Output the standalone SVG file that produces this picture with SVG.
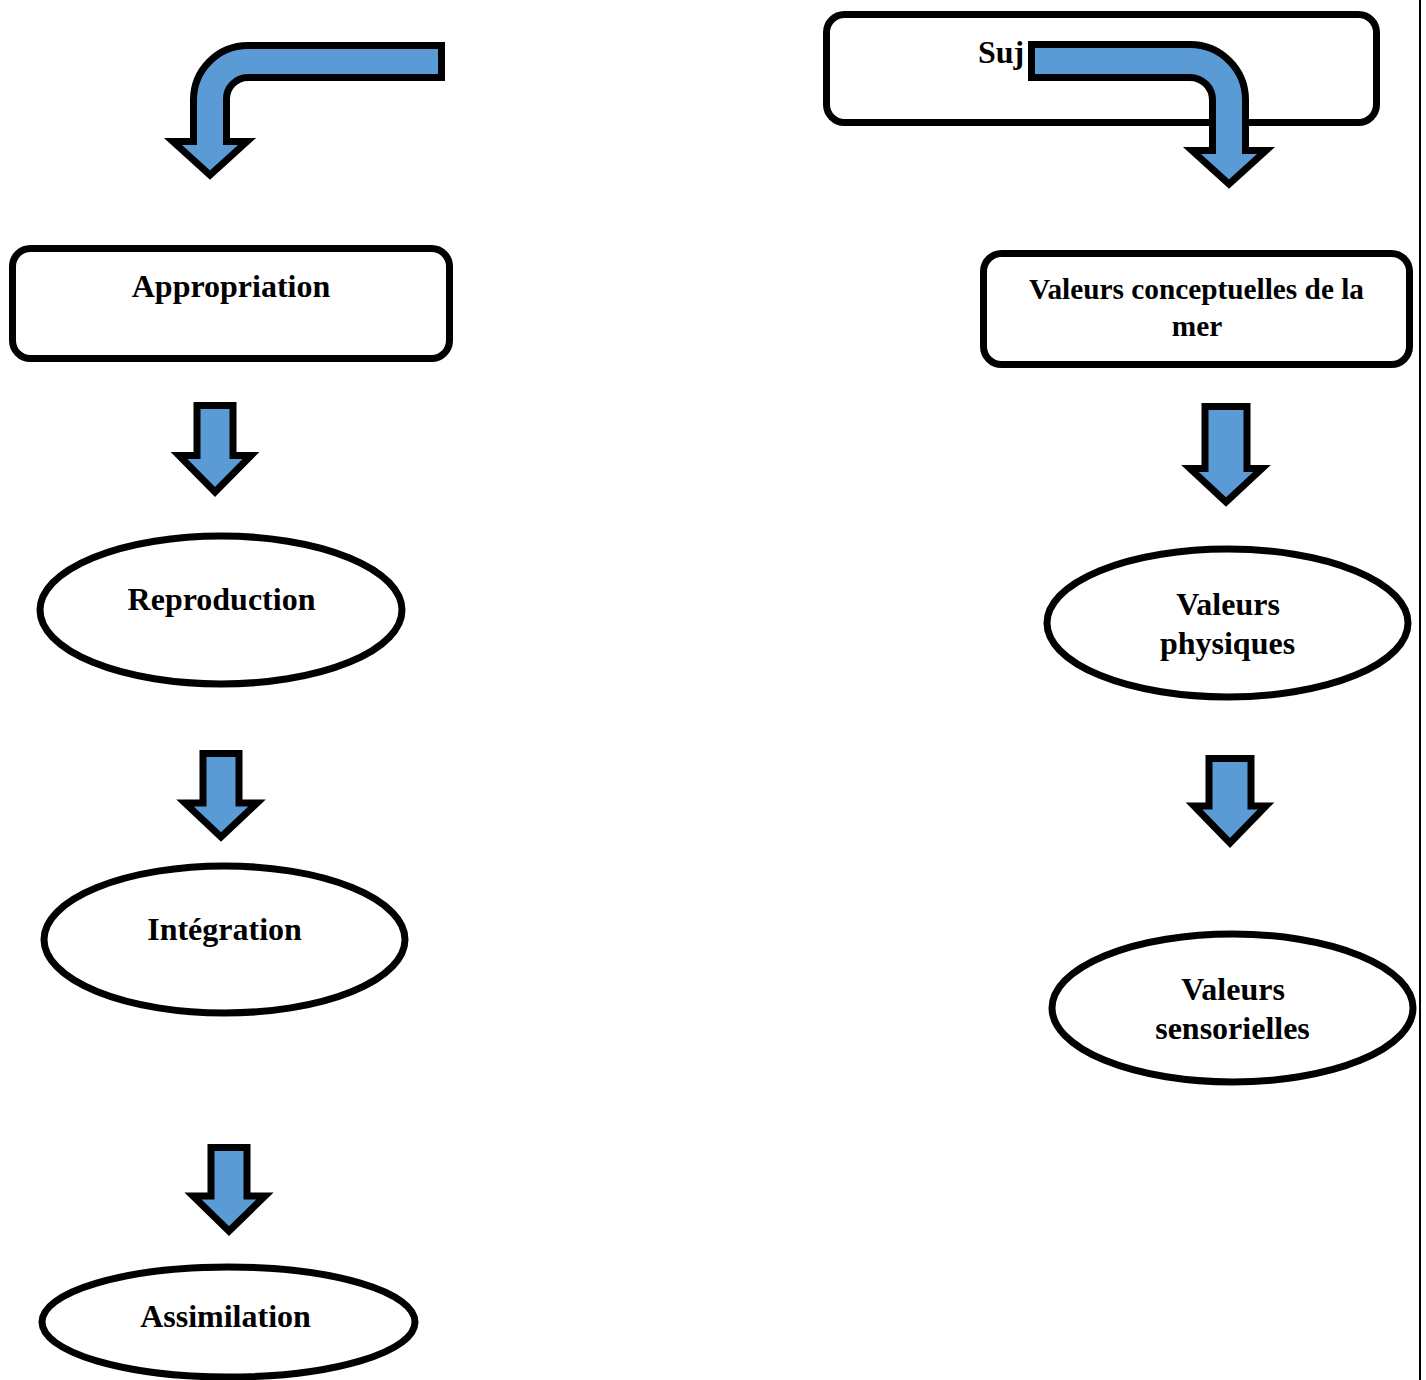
<svg xmlns="http://www.w3.org/2000/svg" width="1426" height="1380" viewBox="0 0 1426 1380">
  <style>
    .box { fill: #ffffff; stroke: #000000; stroke-width: 7; }
    .oval { fill: #ffffff; stroke: #000000; stroke-width: 7; }
    .arrow { fill: #5b9bd5; stroke: #000000; stroke-width: 7; stroke-linejoin: miter; stroke-miterlimit: 10; }
    .label { font-family: "Liberation Serif", "Times New Roman", serif; font-weight: bold; font-size: 32px; fill: #000000; text-anchor: middle; }
    .small { font-size: 29.3px; }
  </style>
  <rect width="1426" height="1380" fill="#ffffff"/>
  <line x1="1420" y1="0" x2="1420" y2="1380" stroke="#000000" stroke-width="2"/>

  <!-- left column -->
  <g id="node-appropriation">
    <rect class="box" x="12.5" y="248.5" width="437" height="110" rx="18"/>
    <text class="label" x="231" y="297">Appropriation</text>
  </g>
  <g id="node-reproduction">
    <ellipse class="oval" cx="221" cy="610" rx="181" ry="74"/>
    <text class="label" x="221.5" y="610">Reproduction</text>
  </g>
  <g id="node-integration">
    <ellipse class="oval" cx="224.5" cy="939.5" rx="180.5" ry="73.5"/>
    <text class="label" x="224.5" y="940">Intégration</text>
  </g>
  <g id="node-assimilation">
    <ellipse class="oval" cx="228.5" cy="1322" rx="186.5" ry="55"/>
    <text class="label" x="225.5" y="1327">Assimilation</text>
  </g>

  <!-- right column -->
  <g id="node-sujet">
    <rect class="box" x="826.5" y="14.5" width="550" height="108" rx="18"/>
    <text class="label" x="978" y="63" style="text-anchor:start">Suj</text>
  </g>
  <g id="node-valeurs-conceptuelles">
    <rect class="box" x="983.5" y="253.5" width="426" height="111" rx="18"/>
    <text class="label small" x="1196.5" y="299">Valeurs conceptuelles de la</text>
    <text class="label small" x="1197" y="336">mer</text>
  </g>
  <g id="node-valeurs-physiques">
    <ellipse class="oval" cx="1227.5" cy="623" rx="180.5" ry="74"/>
    <text class="label" x="1228" y="615">Valeurs</text>
    <text class="label" x="1227.5" y="654">physiques</text>
  </g>
  <g id="node-valeurs-sensorielles">
    <ellipse class="oval" cx="1232.5" cy="1008" rx="180.5" ry="74"/>
    <text class="label" x="1233" y="1000">Valeurs</text>
    <text class="label" x="1232.5" y="1039">sensorielles</text>
  </g>

  <!-- block arrows -->
  <g id="connectors">
    <path class="arrow" d="M 441.5,45.5 H 248 A 54.5 54.5 0 0 0 193.5,100 V 141.5 H 173 L 210,175 L 247,141.5 H 226.5 V 100 A 21.5 21.5 0 0 1 248,77.5 H 441.5 Z"/>
    <path class="arrow" d="M 1031.5,44.5 H 1190 A 55.5 55.5 0 0 1 1245.5,100 V 150.5 H 1266 L 1229,184 L 1192,150.5 H 1212.5 V 100 A 22.5 22.5 0 0 0 1190,77.5 H 1031.5 Z"/>

    <path class="arrow" d="M 197,405.5 H 233 V 455.5 H 251 L 215,492 L 179,455.5 H 197 Z"/>
    <path class="arrow" d="M 203,753.5 H 239 V 803 H 257 L 221,837 L 185,803 H 203 Z"/>
    <path class="arrow" d="M 211,1147.5 H 247 V 1196 H 265 L 229,1231 L 193,1196 H 211 Z"/>

    <path class="arrow" d="M 1205,406.5 H 1247 V 468.5 H 1262 L 1226,502 L 1190,468.5 H 1205 Z"/>
    <path class="arrow" d="M 1209,758.5 H 1251 V 806 H 1266 L 1230,843 L 1194,806 H 1209 Z"/>
  </g>
</svg>
